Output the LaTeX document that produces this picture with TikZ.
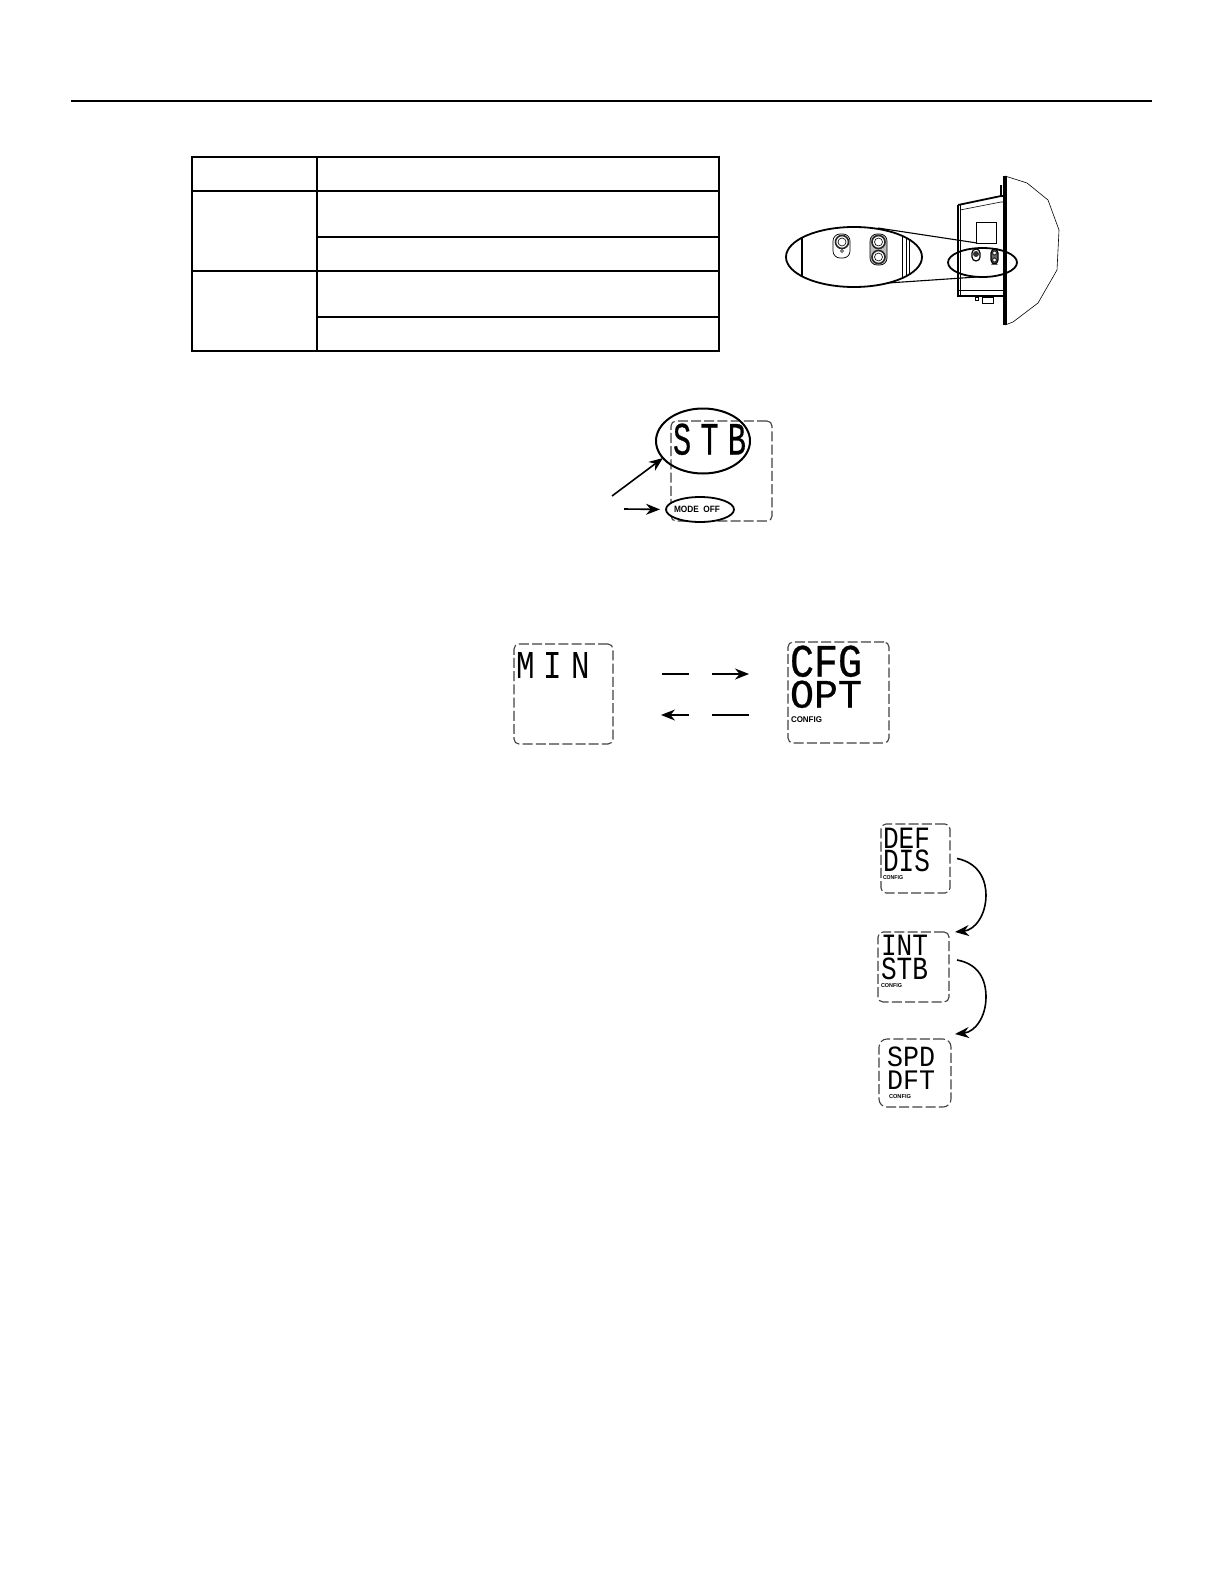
\documentclass[tikz,border=0pt]{standalone}
\usepackage{fontspec}
\usepackage{graphicx}
\setmainfont{Liberation Sans}
\newfontfamily\lcdfont{Liberation Mono}[FakeBold=0.6]
\newfontfamily\lcdsmall{Liberation Mono}
\newfontfamily\lcdwide{Liberation Mono}[LetterSpace=30]
\newfontfamily\lcdwideb{Liberation Mono}[LetterSpace=30,FakeBold=0.6]
\usetikzlibrary{arrows.meta,calc,shapes.geometric}
\newcommand{\lcdtext}[3]{\resizebox{#1pt}{#2pt}{\lcdfont #3}}
\newcommand{\lcdmini}[3]{\resizebox{#1pt}{#2pt}{\lcdsmall #3}}
\newcommand{\lcdspaced}[3]{\resizebox{#1pt}{#2pt}{\lcdwide #3}}
\newcommand{\lcdspacedb}[3]{\resizebox{#1pt}{#2pt}{\lcdwideb #3}}
\newcommand{\lbltext}[3]{\resizebox{#1pt}{#2pt}{\bfseries #3}}
\tikzset{
  every node/.style={inner sep=0pt,outer sep=0pt},
  ln/.style={line width=0.8pt,black},
  tbl/.style={line width=1pt,black},
  thinln/.style={line width=0.3pt,black},
  lcdbox/.style={draw=black!75,line width=0.55pt,rounded corners=2.5pt,dash pattern=on 5pt off 1.6pt,minimum width=#1},
  txt/.style={anchor=south west},
  arr/.style={line width=0.8pt,-{Stealth[length=7pt,width=5.5pt]}},
  oval/.style={draw=black,line width=0.9pt,ellipse},
  knob/.style={draw=black,line width=0.35pt,rounded corners=3.5pt,fill=white},
  ring/.style={draw=black!85,line width=0.8pt,fill=white}
}
\begin{document}
\begin{tikzpicture}[x=0.5pt,y=-0.5pt]
\useasboundingbox (0,0) rectangle (1224,1584);
% header rule
\draw[line width=1pt] (71,101) -- (1152,101);
% table
\draw[tbl] (192,157) rectangle (719,351);
\draw[tbl] (317,157) -- (317,351);
\draw[tbl] (192,190.5) -- (719,190.5);
\draw[tbl] (192,270.5) -- (719,270.5);
\draw[tbl] (317,236.5) -- (719,236.5);
\draw[tbl] (317,317) -- (719,317);
% device side view
\draw[thinln] (1005,176) -- (1027,183) -- (1048,200) -- (1059,230) -- (1057,270) -- (1038,303) -- (1013,322) -- (1005,325);
\draw[line width=1.8pt] (1005,176) -- (1005,325);
\draw[line width=1.3pt] (1001,185) -- (1001,197);
\draw[line width=0.9pt] (1001,196) -- (958,205);
\draw[line width=0.7pt] (1005,196) -- (1001,196) (958,205) -- (958,296) -- (1005,296);
\draw[thinln] (960,205) -- (960,296);
\draw[thinln] (960,210) -- (1001,202) -- (1005,202);
\draw[thinln] (958,290) -- (1005,290);
\draw[thinln] (976,222) rectangle (996,243);
\draw[thinln] (975,297) rectangle (978,300);
\draw[thinln] (982,297) rectangle (993,303);
% small knobs
\draw[knob,rounded corners=2pt,line width=0.6pt] (972,249) rectangle (980,261);
\fill[black!80] (976,254) circle (3);
\draw[knob,rounded corners=2pt,line width=0.6pt,fill=black!60] (991,249) rectangle (998,264);
\draw[ring,line width=0.5pt] (994.5,253) circle (2);
\draw[ring,line width=0.5pt] (994.5,260) circle (2);
% magnified ovals
\draw[line width=0.55pt] (878,228) -- (977,243);
\draw[line width=0.55pt] (888,283) -- (977,277);
\node[oval,minimum width=34.5pt,minimum height=14.5pt] (smalloval) at (982.5,262.5) {};
\node[oval,minimum width=68pt,minimum height=30pt] (bigoval) at (854,257) {};
\begin{scope}
\clip (854,257) ellipse (68 and 30);
\draw[thinln] (801,220) -- (801,290);
\draw[thinln] (802.5,220) -- (802.5,290);
\draw[thinln] (902,220) -- (902,290);
\draw[thinln] (906,220) -- (906,290);
\draw[thinln] (909,220) -- (909,290);
\end{scope}
\draw[knob] (833,234) rectangle (850,258);
\draw[ring] (842,242) circle (6.5);
\draw[thinln] (842,242) circle (4);
\draw[thinln] (842,251) circle (1.5);
\draw[knob,fill=black!25] (870,234) rectangle (887,265);
\draw[ring] (878.5,242) circle (6.5);
\draw[thinln] (878.5,242) circle (4);
\draw[ring] (878.5,257) circle (6.5);
\draw[thinln] (878.5,257) circle (4);
% STB display
\node[lcdbox=50.5pt,minimum height=50pt] (stbbox) at (721.5,471) {};
\node[txt] (stbtext) at (673,455) {\lcdspacedb{36.5}{15.5}{STB}};
\node[oval,minimum width=47pt,minimum height=32.5pt,line width=1pt] (stboval) at (703,441) {};
\node[oval,minimum width=34pt,minimum height=12.5pt,fill=white] (modeoval) at (700,509.5) {};
\node[txt] (modetext) at (674,512.5) {\lbltext{23}{3.2}{MODE\ \ OFF}};
\coordinate (a1) at (612,496);
\coordinate (a2) at (624,509);
\draw[arr] (a1) -- (stboval.203);
\draw[arr,shorten >=3pt] (a2) -- (modeoval.west);
% MIN / CFG displays
\node[lcdbox=49.5pt,minimum height=50pt] (minbox) at (563.5,694) {};
\node[txt] (mintext) at (516,678) {\lcdspaced{37}{13}{MIN}};
\node[lcdbox=50.5pt,minimum height=50.5pt] (cfgbox) at (838.5,692.5) {};
\node[txt] (cfgtext) at (790,677) {\lcdtext{36}{15.5}{CFG}};
\node[txt] (opttext) at (790,708) {\lcdtext{36}{13.5}{OPT}};
\node[txt] (cfglabel) at (791,722.5) {\lbltext{15.5}{2.9}{CONFIG}};
\coordinate (t1) at (662,674);
\coordinate (t2) at (689,674);
\coordinate (t3) at (712,674);
\coordinate (t4) at (749,674);
\coordinate (b1) at (749,715);
\coordinate (b2) at (712,715);
\coordinate (b3) at (689,715);
\coordinate (b4) at (661,715);
\draw[ln] (t1) -- (t2);
\draw[arr] (t3) -- (t4);
\draw[ln] (b1) -- (b2);
\draw[arr] (b3) -- (b4);
% DEF / INT / SPD displays
\node[lcdbox=34.5pt,minimum height=34.5pt] (defbox) at (915.5,858.5) {};
\node[txt] (deftext) at (883,848) {\lcdmini{23.5}{10.2}{DEF}};
\node[txt] (distext) at (883,872) {\lcdmini{23.5}{10.8}{DIS}};
\node[txt] (deflabel) at (883,880) {\lbltext{10}{2}{CONFIG}};
\node[lcdbox=35.5pt,minimum height=35pt] (intbox) at (913.5,967) {};
\node[txt] (inttext) at (881,955) {\lcdmini{23.5}{10.2}{INT}};
\node[txt] (stb2text) at (881,980) {\lcdmini{23.5}{10.8}{STB}};
\node[txt] (intlabel) at (881,987.5) {\lbltext{10.5}{2}{CONFIG}};
\node[lcdbox=36pt,minimum height=34pt,rounded corners=4pt] (spdbox) at (915,1073) {};
\node[txt] (spdtext) at (887,1067) {\lcdmini{24}{9.8}{SPD}};
\node[txt] (dfttext) at (887,1089) {\lcdmini{24}{9.3}{DFT}};
\node[txt] (spdlabel) at (889,1098.5) {\lbltext{11}{2}{CONFIG}};
\draw[arr] ([xshift=3.5pt]defbox.east) .. controls (979,863) and (986,880) .. (986,895) .. controls (986,915) and (975,930) .. ([xshift=3pt]intbox.north east);
\draw[arr] ([xshift=4pt,yshift=3.5pt]intbox.east) .. controls (979,964) and (986,980) .. (986,997) .. controls (986,1017) and (975,1032) .. ([xshift=2pt,yshift=2.5pt]spdbox.north east);
\end{tikzpicture}
\end{document}
